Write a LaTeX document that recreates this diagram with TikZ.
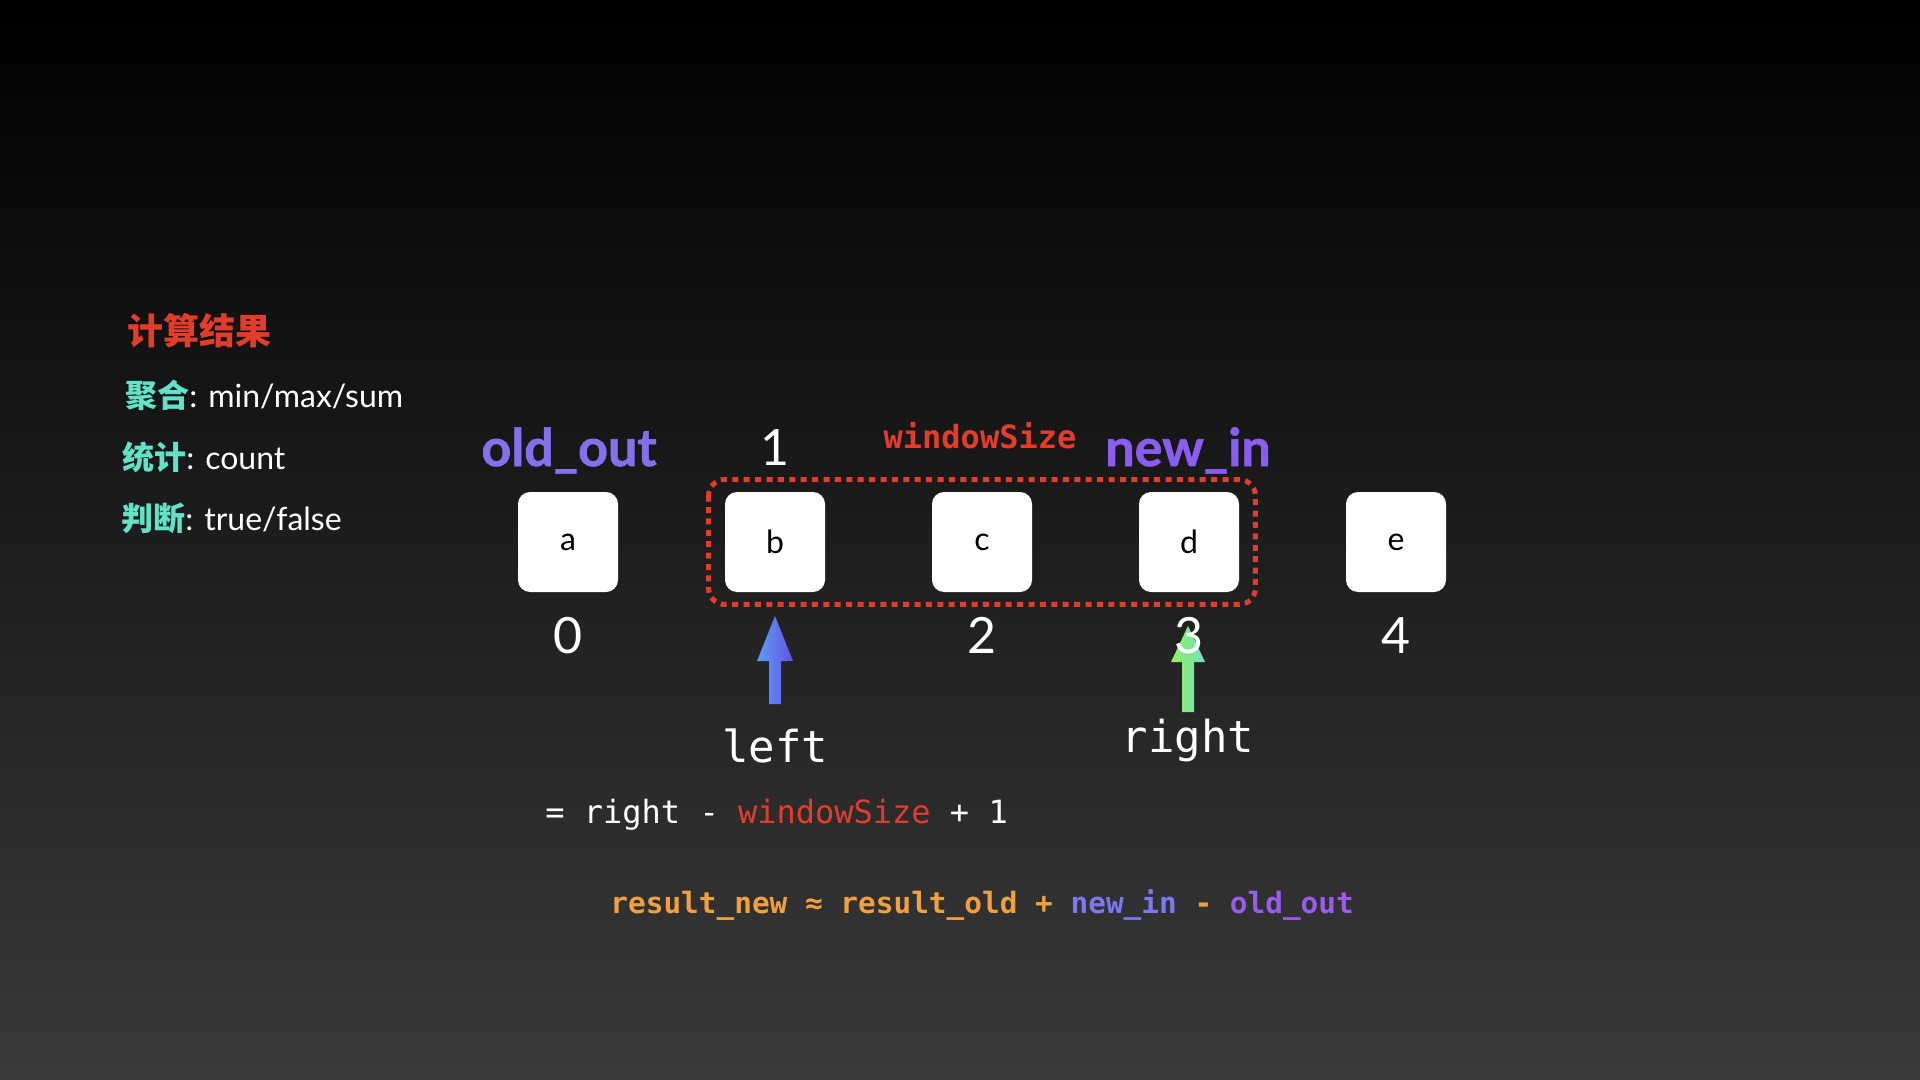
\documentclass[tikz,border=0pt]{standalone}
\usepackage{fontspec}
\setmainfont{Lato}
\newfontfamily\cjk{Noto Sans CJK SC}
\newfontfamily\codefont{DejaVu Sans Mono}
\newfontfamily\heavyfont{Lato}[BoldFeatures={FakeBold=1.3}]
\usetikzlibrary{calc}
\definecolor{bgbot}{RGB}{58,58,58}
\definecolor{redc}{HTML}{E23D2C}
\definecolor{tealc}{HTML}{62E2C8}
\definecolor{orangec}{HTML}{F0A040}
\definecolor{oldc}{HTML}{8470EA}
\definecolor{newc}{HTML}{8A5CF0}
\definecolor{fnew}{HTML}{7B78F0}
\definecolor{fold}{HTML}{9A5CEC}
\definecolor{lblue}{HTML}{5AA0F2}
\definecolor{lpurp}{HTML}{6650E6}
\definecolor{glime}{HTML}{92F060}
\definecolor{gteal}{HTML}{72E0C0}
\begin{document}
\begin{tikzpicture}[x=0.5pt,y=-0.5pt,
  cell/.style={fill=white,rounded corners=6pt,minimum width=50pt,minimum height=50pt,inner sep=0pt,text=black,font=\fontsize{16pt}{19pt}\selectfont},
  idx/.style={text=white,inner sep=0pt,font=\fontsize{25pt}{30pt}\selectfont},
  hdr/.style={inner sep=0pt,font=\fontsize{26pt}{31pt}\heavyfont\bfseries},
  win/.style={draw=redc,line width=2.5pt,dash pattern=on 3pt off 2.7pt,rounded corners=8pt},
  ptr/.style={text=white,inner sep=0pt,font=\fontsize{22pt}{26pt}\codefont},
  code/.style={text=white,inner sep=0pt,font=\fontsize{16pt}{19pt}\codefont},
  codeb/.style={inner sep=0pt,font=\fontsize{14.7pt}{18pt}\codefont\bfseries},
  side/.style={text=white,inner sep=0pt,anchor=base west,font=\fontsize{16pt}{19pt}\selectfont}
]
\shade[top color=black,bottom color=bgbot] (0,0) rectangle (1920,1080);
\useasboundingbox (0,0) rectangle (1920,1080);

% left column
\node[inner sep=0pt,anchor=base west,text=redc,font=\fontsize{18pt}{21pt}\cjk\bfseries] (h) at (127,344) {计算结果};
\node[side] (r1) at (125,408) {{\cjk\bfseries\color{tealc}聚合}: min/max/sum};
\node[side] (r2) at (122,469) {{\cjk\bfseries\color{tealc}统计}: count};
\node[side] (r3) at (121,530) {{\cjk\bfseries\color{tealc}判断}: true/false};

% cells
\node[cell] (a) at (568,542) {a};
\node[cell] (b) at (775,542) {b};
\node[cell] (c) at (982,542) {c};
\node[cell] (d) at (1189,542) {d};
\node[cell] (e) at (1396,542) {e};

% window
\draw[win] ($(b.north west)+(-16,-12)$) rectangle ($(d.south east)+(16,12)$);

% header labels
\node[hdr,anchor=base,text=oldc] (oo) at (569,466) {old\_out};
\node[hdr,anchor=base,text=newc] (ni) at (1188,466) {new\_in};
\node[inner sep=0pt,anchor=base,text=redc,font=\fontsize{16pt}{19pt}\codefont\bfseries] (ws) at (980,448) {windowSize};
\node[idx,anchor=base] (i1) at (775,465) {1};

% arrows
\shade[left color=lblue,right color=lpurp] (775,616) -- (793,661) -- (781,661) -- (781,704) -- (769,704) -- (769,661) -- (757,661) -- cycle;
\shade[left color=glime,right color=gteal] (1188,626) -- (1205,662) -- (1194,662) -- (1194,712) -- (1182,712) -- (1182,662) -- (1171,662) -- cycle;

% indices
\node[idx,anchor=base] (i0) at (568,653) {0};
\node[idx,anchor=base] (i2) at (982,653) {2};
\node[idx,anchor=base] (i3) at (1189,653) {3};
\node[idx,anchor=base] (i4) at (1396,653) {4};

% pointer labels
\node[ptr,anchor=base] (lt) at (775,762) {left};
\node[ptr,anchor=base] (rt) at (1188,752) {right};

% formulas
\node[code,anchor=base west] (f1) at (545,823) {= right - \textcolor{redc}{windowSize} + 1};
\node[codeb,anchor=base west] (f2) at (610,913) {\textcolor{orangec}{result\_new ≈ result\_old +} \textcolor{fnew}{new\_in} \textcolor{orangec}{-} \textcolor{fold}{old\_out}};
\end{tikzpicture}
\end{document}
